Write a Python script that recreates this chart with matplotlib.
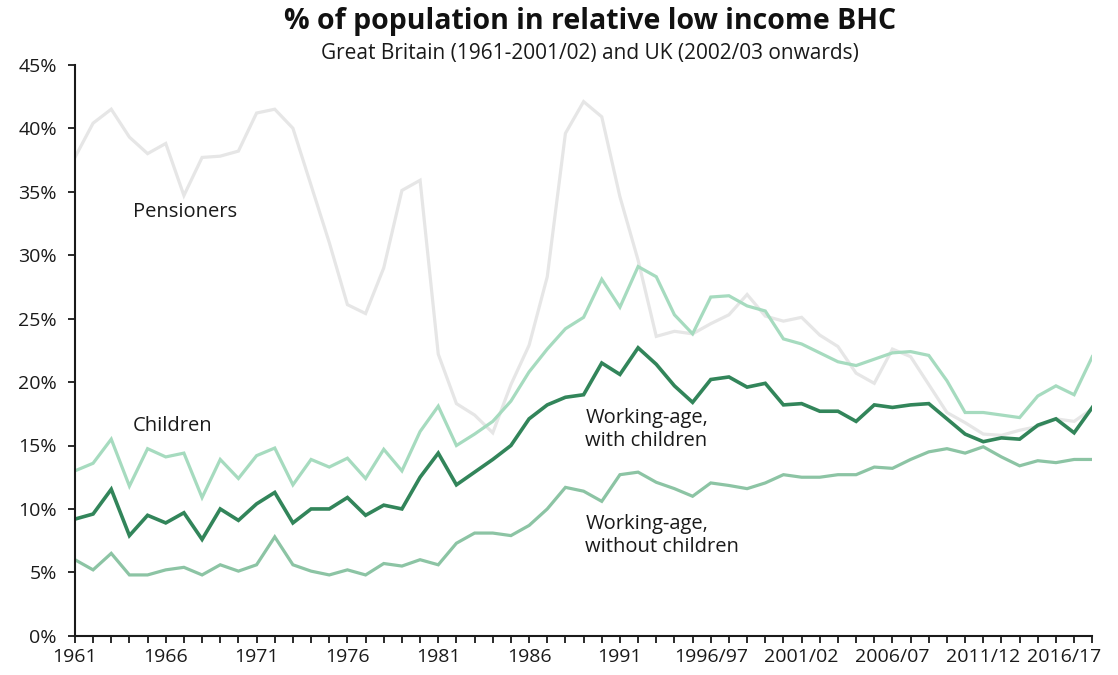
import matplotlib
matplotlib.use('Agg')
import matplotlib.pyplot as plt
import matplotlib.transforms as mtransforms
import numpy as np

plt.rcParams['font.family'] = ['Open Sans', 'DejaVu Sans']

# Period labels: calendar years 1961-1992, then financial years 1993/94 - 2017/18
periods = [str(y) for y in range(1961, 1993)] + \
          [f'{y}/{str(y + 1)[-2:]}' for y in range(1993, 2018)]

pensioners = [37.7, 40.4, 41.5, 39.3, 38.0, 38.8, 34.7, 37.7, 37.8, 38.2,
              41.2, 41.5, 40.0, 35.5, 31.0, 26.1, 25.4, 29.0, 35.1, 35.9,
              22.2, 18.3, 17.4, 16.0, 19.8, 22.9, 28.3, 39.6, 42.1, 40.9,
              34.6, 29.6, 23.6, 24.0, 23.8, 24.6, 25.3, 26.9, 25.2, 24.8,
              25.1, 23.7, 22.8, 20.7, 19.9, 22.6, 22.0, 19.8, 17.6, 16.8,
              15.9, 15.8, 16.2, 16.5, 17.1, 16.9, 17.9]
children = [13.0, 13.6, 15.5, 11.8, 14.75, 14.1, 14.4, 10.9, 13.9, 12.4,
            14.2, 14.8, 11.9, 13.9, 13.3, 14.0, 12.4, 14.7, 13.0, 16.1,
            18.1, 15.0, 15.9, 16.9, 18.5, 20.8, 22.6, 24.2, 25.1, 28.1,
            25.9, 29.1, 28.3, 25.3, 23.8, 26.7, 26.8, 26.0, 25.6, 23.4,
            23.0, 22.3, 21.6, 21.3, 21.8, 22.3, 22.4, 22.1, 20.1, 17.6,
            17.6, 17.4, 17.2, 18.9, 19.7, 19.0, 22.0]
wa_with_children = [9.2, 9.6, 11.55, 7.9, 9.5, 8.9, 9.7, 7.6, 10.0, 9.1,
                    10.4, 11.3, 8.9, 10.0, 10.0, 10.9, 9.5, 10.3, 10.0, 12.5,
                    14.4, 11.9, 12.9, 13.9, 15.0, 17.1, 18.2, 18.8, 19.0, 21.5,
                    20.6, 22.7, 21.4, 19.7, 18.4, 20.2, 20.4, 19.6, 19.9, 18.2,
                    18.3, 17.7, 17.7, 16.9, 18.2, 18.0, 18.2, 18.3, 17.1, 15.9,
                    15.3, 15.6, 15.5, 16.6, 17.1, 16.0, 18.0]
wa_without_children = [6.0, 5.2, 6.5, 4.8, 4.8, 5.2, 5.4, 4.8, 5.6, 5.1,
                       5.6, 7.8, 5.6, 5.1, 4.8, 5.2, 4.8, 5.7, 5.5, 6.0,
                       5.6, 7.3, 8.1, 8.1, 7.9, 8.7, 10.0, 11.7, 11.4, 10.6,
                       12.7, 12.9, 12.1, 11.6, 11.0, 12.05, 11.85, 11.6, 12.05, 12.7,
                       12.5, 12.5, 12.7, 12.7, 13.3, 13.2, 13.9, 14.5, 14.75, 14.4,
                       14.9, 14.1, 13.4, 13.8, 13.65, 13.9, 13.9]

labelled_periods = ['1961', '1966', '1971', '1976', '1981', '1986', '1991',
                    '1996/97', '2001/02', '2006/07', '2011/12', '2016/17']


def main():
    fig = plt.figure(figsize=(11.18, 6.75), dpi=100)
    ax = fig.add_axes([0.067, 0.058, 0.910, 0.846])
    x = np.arange(len(periods))

    ax.plot(x, pensioners, color='#e6e6e6', lw=2.3, solid_joinstyle='miter')
    ax.plot(x, children, color='#a6dbbf', lw=2.3, solid_joinstyle='miter')
    ax.plot(x, wa_without_children, color='#8cc4a4', lw=2.3, solid_joinstyle='miter')
    ax.plot(x, wa_with_children, color='#32855a', lw=2.6, solid_joinstyle='miter')

    lab_kw = dict(fontsize=14.5, color='#1a1a1a', ha='left', va='center')
    ax.text(3.2, 33.4, 'Pensioners', **lab_kw)
    ax.text(3.2, 16.5, 'Children', **lab_kw)
    ax.text(28.1, 16.3, 'Working-age,\nwith children', linespacing=1.2, **lab_kw)
    ax.text(28.1, 7.9, 'Working-age,\nwithout children', linespacing=1.2, **lab_kw)

    ax.set_xlim(0, len(periods) - 1)
    ax.set_ylim(0, 45)
    ax.set_xticks(x)
    ax.set_xticklabels([p if p in labelled_periods else '' for p in periods])
    ax.set_yticks(np.arange(0, 46, 5))
    ax.set_yticklabels([f'{v}%' for v in range(0, 46, 5)])
    ax.tick_params(axis='both', direction='out', length=5, width=1.3,
                   labelsize=14, colors='#1a1a1a')
    ax.tick_params(axis='y', pad=8)
    ax.tick_params(axis='x', pad=4)

    # nudge the last labelled period left so it stays inside the canvas
    last = ax.get_xticklabels()[periods.index('2016/17')]
    shift = mtransforms.ScaledTranslation(-10 / 100, 0, fig.dpi_scale_trans)
    last.set_transform(last.get_transform() + shift)

    for s in ('top', 'right'):
        ax.spines[s].set_visible(False)
    for s in ('left', 'bottom'):
        ax.spines[s].set_linewidth(1.5)
        ax.spines[s].set_color('#1a1a1a')

    fig.text(0.528, 0.968, '% of population in relative low income BHC',
             ha='center', va='center', fontsize=20.5, fontweight='bold', color='#111111')
    fig.text(0.528, 0.921, 'Great Britain (1961-2001/02) and UK (2002/03 onwards)',
             ha='center', va='center', fontsize=15, color='#1a1a1a')

    fig.savefig('out.png', dpi=100)
    plt.close(fig)


if __name__ == '__main__':
    main()
